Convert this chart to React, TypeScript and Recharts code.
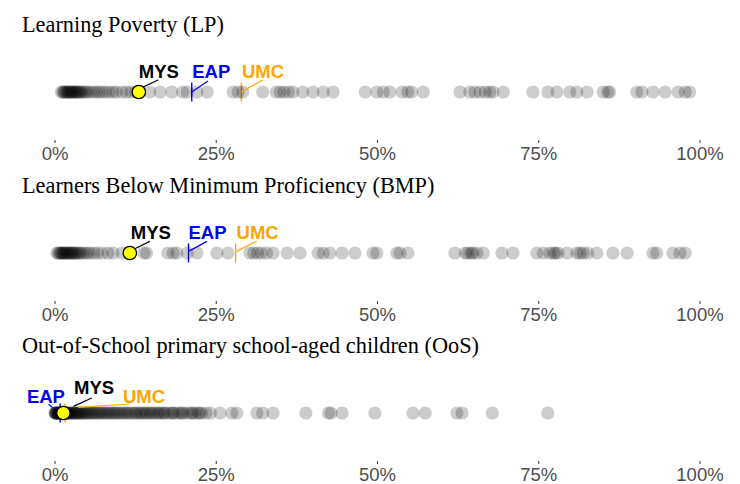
import React from 'react';
import { ScatterChart, Scatter, XAxis, YAxis } from 'recharts';

const panelTitles = [
  'Learning Poverty (LP)',
  'Learners Below Minimum Proficiency (BMP)',
  'Out-of-School primary school-aged children (OoS)',
];

const xTicks = [0, 25, 50, 75, 100];

const markerNames = ['MYS', 'EAP', 'UMC'];

const lpValues = [
  1.0, 1.2, 1.4, 1.5, 1.7, 1.9, 2.0, 2.2, 2.3, 2.5, 2.7, 2.8, 3.0, 3.2, 3.3,
  3.5, 3.7, 3.9, 4.1, 4.4, 4.7, 5.0, 5.4,
  5.9, 6.4, 6.8, 7.3, 7.8, 8.4, 9.0, 9.5, 10.4, 11.1, 11.8, 12.5,
  14.7, 16.3, 18.1, 19.8, 20.5, 22.0, 23.6,
  27.6, 28.4, 29.1,
  32.2, 34.3, 34.9, 35.5, 36.2, 36.9, 38.4, 40.0, 41.6, 43.1,
  48.1, 49.9, 50.9, 51.9, 53.8, 54.7, 55.3, 57.1,
  62.8, 64.3, 65.1, 65.9, 66.7, 67.4, 67.9, 69.5,
  74.1, 76.4, 77.8, 79.8, 80.9, 82.5, 85.0, 85.7, 86.0,
  90.2, 91.0, 92.7, 94.6, 96.6, 97.7, 98.4,
];
const lpMarkers = [13.0, 21.2, 28.9];

const bmpValues = [
  0.3, 0.5, 0.7, 0.9, 1.0, 1.2, 1.3, 1.5, 1.6, 1.8, 2.0, 2.1, 2.3, 2.5, 2.6,
  2.8, 3.0, 3.2, 3.4, 3.7, 3.9, 4.2, 4.6, 5.0, 5.4, 6.0, 6.6, 7.3, 8.2, 9.0, 10.4,
  13.8, 14.2,
  17.5, 18.3, 18.9, 20.5, 22.0,
  25.1, 26.8,
  30.2, 30.8, 31.4, 32.0, 32.8, 33.8, 36.0, 38.0,
  40.8, 41.6, 42.6, 44.5, 46.5, 49.3, 49.9,
  53.0, 53.5, 54.7,
  62.0, 63.6, 64.0, 64.5, 64.8, 65.4, 66.4,
  69.3, 71.0,
  74.7, 75.7, 76.7, 77.3, 77.6, 78.0, 79.4, 80.9, 81.4, 81.9, 82.6, 84.0,
  86.5, 88.7,
  92.7, 93.3, 95.8, 96.9, 97.7,
];
const bmpMarkers = [11.6, 20.7, 28.0];

const oosValues = [
  0.0, 0.05, 0.1, 0.15, 0.2, 0.3, 0.35, 0.4, 0.5, 0.55, 0.6, 0.7, 0.8, 0.85,
  0.9, 1.0, 1.1, 1.15, 1.2, 1.3, 1.4, 1.5, 1.6, 1.7, 1.8, 1.9, 2.0, 2.2, 2.3,
  2.4, 2.6, 2.7, 2.9, 3.0, 3.2, 3.3, 3.5, 3.7, 3.8, 4.0, 4.2, 4.4, 4.6, 4.8,
  5.0, 5.2, 5.5, 5.7, 5.9, 6.2, 6.4, 6.7, 6.9, 7.2, 7.4, 7.7, 8.0, 8.2, 8.5,
  8.8, 9.1, 9.3, 9.6, 9.9, 10.2, 10.5, 10.8, 11.1, 11.4, 11.7,
  12.1, 12.4, 12.6, 13.0, 13.3, 13.5, 13.9, 14.1, 14.4, 14.8, 15.0, 15.3,
  15.7, 16.0, 16.2, 16.6, 16.9, 17.1, 17.6, 18.0, 18.3, 18.5, 19.0, 19.4,
  19.7, 19.9, 20.5, 21.0, 21.3, 21.6, 22.1, 22.4, 22.7, 23.4, 24.1,
  25.6, 27.4, 28.2, 31.3, 32.2, 33.8, 38.9, 42.4, 42.8, 44.5, 49.6,
  55.5, 57.4, 62.3, 63.1, 67.8, 76.4,
];
const oosMarkers = [1.3, 0.8, 1.55];

const markerColors: Record<string, string> = {
  MYS: '#000000',
  EAP: '#0000ff',
  UMC: '#ffa500',
};

type LabelLayout = { lx: number; ly: number; x1: number; y1: number; x2: number; y2: number };

const labelLayouts: Record<string, LabelLayout>[] = [
  {
    MYS: { lx: 20, ly: -14, x1: 4.3, y1: -5, x2: 19.3, y2: -12 },
    EAP: { lx: 19.5, ly: -14, x1: 0, y1: 0, x2: 16.3, y2: -11 },
    UMC: { lx: 21.6, ly: -14, x1: 0, y1: 0, x2: 21.3, y2: -12 },
  },
  {
    MYS: { lx: 21, ly: -14, x1: 5, y1: -4.3, x2: 20, y2: -11.6 },
    EAP: { lx: 19, ly: -14, x1: 0, y1: -1.6, x2: 18.4, y2: -11.6 },
    UMC: { lx: 22, ly: -14, x1: 1, y1: -1.6, x2: 21, y2: -11.6 },
  },
  {
    EAP: { lx: -14.2, ly: -9.7, x1: -6.7, y1: -4.7, x2: -11.7, y2: -8.7 },
    MYS: { lx: 30.7, ly: -19, x1: 10, y1: -6.6, x2: 28.4, y2: -15 },
    UMC: { lx: 79, ly: -10, x1: 13.3, y1: -5.7, x2: 65, y2: -9 },
  },
];

const panelValues = [lpValues, bmpValues, oosValues];
const panelMarkers = [lpMarkers, bmpMarkers, oosMarkers];
const panelTops = [0, 161, 321];

const SANS = '"Liberation Sans", Arial, Helvetica, sans-serif';
const SERIF = '"Liberation Serif", "Times New Roman", Times, serif';

const GrayDot = (props: any) => (
  <circle cx={props.cx} cy={props.cy} r={6.6} fill="#000" fillOpacity={0.2} />
);

const RegionTick = (props: any) => (
  <line
    x1={props.cx}
    x2={props.cx}
    y1={props.cy - 9.5}
    y2={props.cy + 9.5}
    stroke={markerColors[props.payload.name]}
    strokeWidth={1.4}
  />
);

const MysDot = (props: any) => (
  <circle cx={props.cx} cy={props.cy} r={6.7} fill="#ffff00" stroke="#000" strokeWidth={1.3} />
);

const makeLabel = (layouts: Record<string, LabelLayout>) => (props: any) => {
  const name = props.payload.name;
  const l = layouts[name];
  const c = markerColors[name];
  return (
    <g>
      <line
        x1={props.cx + l.x1}
        y1={props.cy + l.y1}
        x2={props.cx + l.x2}
        y2={props.cy + l.y2}
        stroke={c}
        strokeWidth={1.2}
      />
      <text
        x={props.cx + l.lx}
        y={props.cy + l.ly}
        textAnchor="middle"
        fill={c}
        fontFamily={SANS}
        fontWeight="bold"
        fontSize={18.5}
      >
        {name}
      </text>
    </g>
  );
};

function Panel({ index }: { index: number }) {
  const dots = panelValues[index].map((v) => ({ x: v, y: 0 }));
  const markers = markerNames.map((n, i) => ({ x: panelMarkers[index][i], y: 0, name: n }));
  const ticks = markers.filter((m) => m.name !== 'MYS');
  const mys = markers.filter((m) => m.name === 'MYS');
  return (
    <div style={{ position: 'absolute', left: 0, top: panelTops[index], width: 740, height: 161 }}>
      <ScatterChart width={740} height={168} margin={{ top: 44, right: 40, bottom: 7, left: 55 }}>
        <XAxis
          type="number"
          dataKey="x"
          domain={[0, 100]}
          ticks={xTicks}
          interval={0}
          tickFormatter={(v: number) => `${v}%`}
          axisLine={false}
          tickLine={{ stroke: '#333333', strokeWidth: 1 }}
          tickSize={3}
          tickMargin={4}
          height={21}
          tick={{ fill: '#4d4d4d', fontSize: 18.5, fontFamily: SANS }}
        />
        <YAxis type="number" dataKey="y" domain={[-1, 1]} hide />
        <Scatter data={ticks} shape={RegionTick} isAnimationActive={false} />
        <Scatter data={dots} shape={GrayDot} isAnimationActive={false} />
        <Scatter data={mys} shape={MysDot} isAnimationActive={false} />
        <Scatter data={markers} shape={makeLabel(labelLayouts[index])} isAnimationActive={false} />
      </ScatterChart>
      <div
        style={{
          position: 'absolute',
          left: 22,
          top: 13.5,
          fontFamily: SERIF,
          fontSize: 22.3,
          lineHeight: 1,
          color: '#000',
          whiteSpace: 'nowrap',
        }}
      >
        {panelTitles[index]}
      </div>
    </div>
  );
}

export default function App() {
  return (
    <div style={{ position: 'absolute', left: 0, top: 0, width: 740, height: 484, background: '#fff', overflow: 'hidden' }}>
      {panelTitles.map((_, i) => (
        <Panel key={i} index={i} />
      ))}
    </div>
  );
}
